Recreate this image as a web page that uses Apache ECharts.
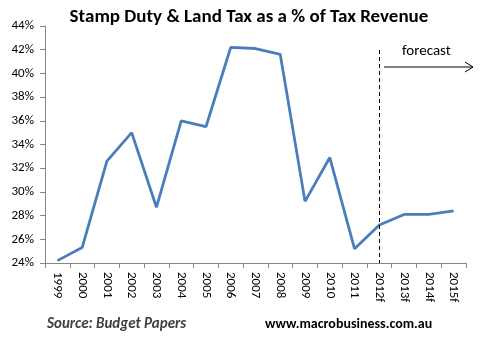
<!DOCTYPE html>
<html><head><meta charset="utf-8">
<script src="https://cdn.jsdelivr.net/npm/echarts@6/dist/echarts.min.js"></script>
<style>html,body{margin:0;padding:0;background:#fff}#c{width:483px;height:337px}</style>
</head><body><div id="c"></div>
<script>
const categories = ['1999','2000','2001','2002','2003','2004','2005','2006','2007','2008','2009','2010','2011','2012f','2013f','2014f','2015f'];
const values = [24.2,25.3,32.6,35.0,28.7,36.0,35.5,42.2,42.1,41.6,29.2,32.9,25.2,27.2,28.1,28.1,28.4];
const forecastStart = '2012f';
const chart = echarts.init(document.getElementById('c'));
const font = 'Carlito, Calibri, "Open Sans", sans-serif';
chart.setOption({
  animation: false,
  title: {
    text: 'Stamp Duty & Land Tax as a % of Tax Revenue',
    left: 244, top: 3, textAlign: 'center',
    textStyle: {fontFamily: font, fontWeight: 'bold', fontSize: 19, color: '#000'}
  },
  grid: {left: 45, top: 26, right: 17, bottom: 74},
  xAxis: {
    type: 'category', data: categories, boundaryGap: true,
    axisLine: {lineStyle: {color: '#868686', width: 1}},
    axisTick: {show: true, length: 5, lineStyle: {color: '#868686'}},
    axisLabel: {rotate: -90, color: '#000', fontSize: 13, fontFamily: font, margin: 9, interval: 0}
  },
  yAxis: {
    type: 'value', min: 24, max: 44, interval: 2,
    axisLine: {show: true, lineStyle: {color: '#868686', width: 1}},
    axisTick: {show: true, length: 5, lineStyle: {color: '#868686'}},
    splitLine: {show: false},
    axisLabel: {formatter: '{value}%', color: '#000', fontSize: 13, fontFamily: font, margin: 11}
  },
  series: [{
    type: 'line', data: values, symbol: 'none',
    lineStyle: {color: '#4a7ebb', width: 2.8},
    markLine: {
      silent: true, symbol: 'none',
      label: {show: false},
      lineStyle: {type: [4, 3], color: '#000', width: 1},
      data: [[{xAxis: forecastStart, y: 50}, {xAxis: forecastStart, yAxis: 24}]]
    }
  }],
  graphic: [
    {type: 'text', left: 402, top: 44, style: {text: 'forecast', fontFamily: font, fontSize: 15, fill: '#000'}},
    {type: 'line', shape: {x1: 384, y1: 67, x2: 473, y2: 67}, style: {stroke: '#000', lineWidth: 1}},
    {type: 'polyline', shape: {points: [[465, 62], [473, 67], [465, 72]]}, style: {stroke: '#000', lineWidth: 1, fill: null}},
    {type: 'text', left: 47, top: 317, style: {text: 'Source: Budget Papers', fontFamily: font, fontSize: 15, fontStyle: 'italic', fontWeight: 'bold', fill: '#404040'}},
    {type: 'text', left: 265, top: 317, style: {text: 'www.macrobusiness.com.au', fontFamily: font, fontSize: 14, fontWeight: 'bold', fill: '#000'}}
  ]
});
</script></body></html>
